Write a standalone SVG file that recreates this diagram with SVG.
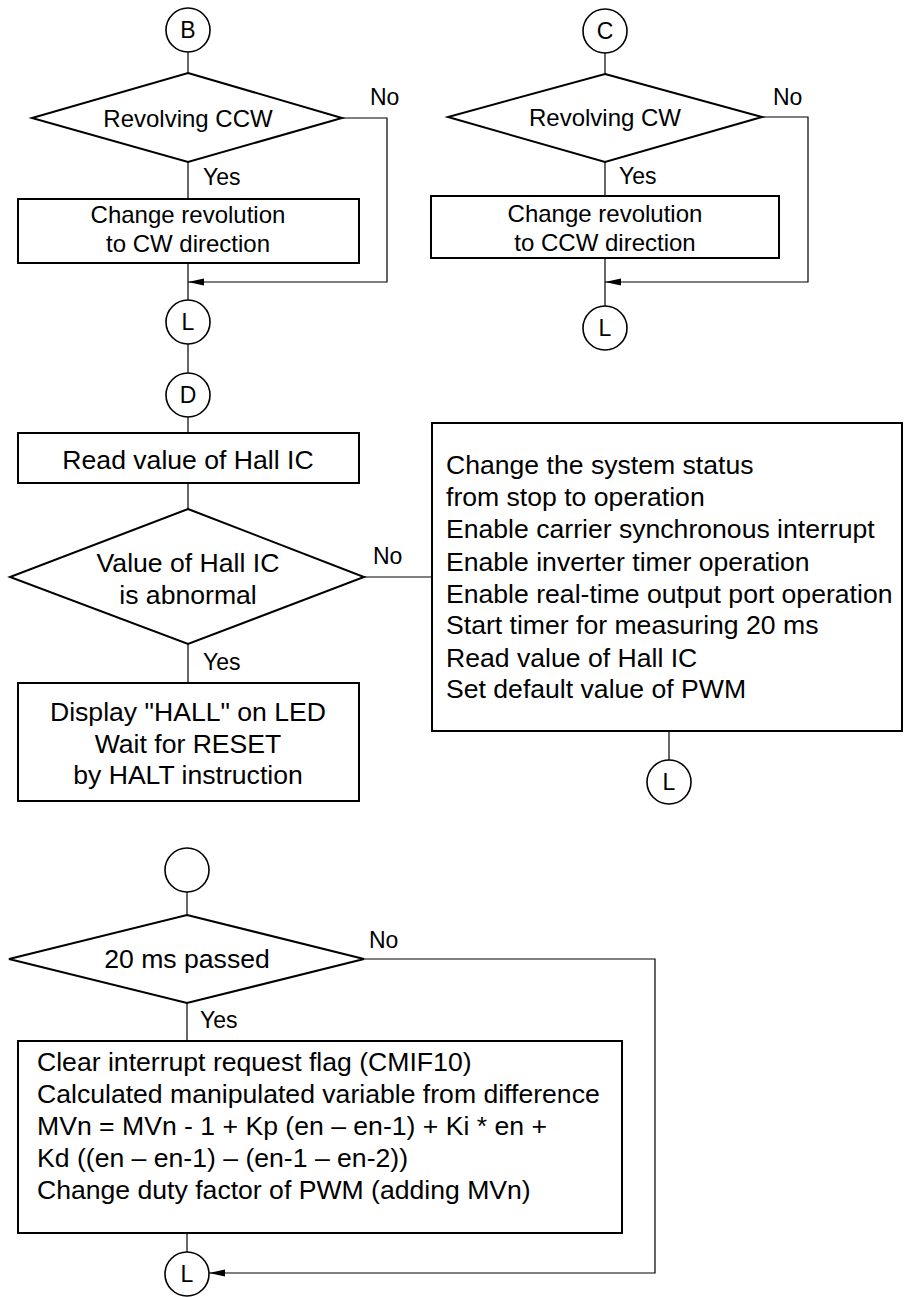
<svg xmlns="http://www.w3.org/2000/svg" width="904" height="1297" viewBox="0 0 904 1297">
  <defs>
    <marker id="arrow" markerWidth="16" markerHeight="8" refX="16" refY="4" orient="auto" markerUnits="userSpaceOnUse">
      <path d="M0,0.5 L16,4 L0,7.5 Z" fill="#000"/>
    </marker>
    <style>
      text { font-family: "Liberation Sans", Arial, sans-serif; fill: #000; }
      .box { fill: #fff; stroke: #000; stroke-width: 2; }
      .term { fill: #fff; stroke: #000; stroke-width: 1.6; }
      .wire { fill: none; stroke: #000; stroke-width: 1.2; }
      .t24 { font-size: 24px; }
      .t26 { font-size: 26.6px; }
      .lbl { font-size: 23px; }
      .cl { font-size: 23px; text-anchor: middle; }
      .mid { text-anchor: middle; }
    </style>
  </defs>
  <rect width="904" height="1297" fill="#fff"/>

  <!-- connectors -->
  <g id="connectors" class="wire">
    <!-- CCW branch -->
    <line x1="188" y1="52" x2="188" y2="73"/>
    <line x1="188" y1="162" x2="188" y2="199"/>
    <line x1="188" y1="263" x2="188" y2="300"/>
    <polyline points="342,118 387,118 387,282 188,282" marker-end="url(#arrow)"/>
    <!-- CW branch -->
    <line x1="605" y1="53" x2="605" y2="74"/>
    <line x1="605" y1="162" x2="605" y2="196"/>
    <line x1="605" y1="258" x2="605" y2="306"/>
    <polyline points="762,117 808,117 808,282 605,282" marker-end="url(#arrow)"/>
    <!-- Hall IC check -->
    <line x1="188" y1="344" x2="188" y2="373"/>
    <line x1="188" y1="417" x2="188" y2="433"/>
    <line x1="188" y1="483" x2="188" y2="509"/>
    <line x1="188" y1="644" x2="188" y2="683"/>
    <line x1="364" y1="577" x2="432" y2="577"/>
    <line x1="669" y1="731" x2="669" y2="760"/>
    <!-- 20 ms loop -->
    <line x1="187" y1="892" x2="187" y2="915"/>
    <line x1="187" y1="1003" x2="187" y2="1041"/>
    <line x1="187" y1="1233" x2="187" y2="1252"/>
    <polyline points="364,959 655,959 655,1273 209,1273" marker-end="url(#arrow)"/>
  </g>

  <!-- CCW branch -->
  <g id="conn-b">
    <circle class="term" cx="188" cy="30" r="22"/>
    <text class="cl" x="188" y="38">B</text>
  </g>
  <g id="dec-ccw">
    <polygon class="box" points="188,73 342,118 188,162 32,118"/>
    <text class="t24 mid" x="188" y="127">Revolving CCW</text>
    <text class="lbl" x="370" y="105">No</text>
    <text class="lbl" x="203" y="185">Yes</text>
  </g>
  <g id="proc-to-cw">
    <rect class="box" x="18" y="199" width="341" height="64"/>
    <text class="t24 mid" x="188" y="223">Change revolution</text>
    <text class="t24 mid" x="188" y="252">to CW direction</text>
  </g>
  <g id="conn-l1">
    <circle class="term" cx="188" cy="322" r="22"/>
    <text class="cl" x="188" y="330">L</text>
  </g>

  <!-- CW branch -->
  <g id="conn-c">
    <circle class="term" cx="605" cy="31" r="22"/>
    <text class="cl" x="605" y="39">C</text>
  </g>
  <g id="dec-cw">
    <polygon class="box" points="605,74 762,117 605,162 448,117"/>
    <text class="t24 mid" x="605" y="126">Revolving CW</text>
    <text class="lbl" x="773" y="105">No</text>
    <text class="lbl" x="619" y="184">Yes</text>
  </g>
  <g id="proc-to-ccw">
    <rect class="box" x="431" y="196" width="348" height="62"/>
    <text class="t24 mid" x="605" y="222">Change revolution</text>
    <text class="t24 mid" x="605" y="251">to CCW direction</text>
  </g>
  <g id="conn-l2">
    <circle class="term" cx="605" cy="328" r="22"/>
    <text class="cl" x="605" y="336">L</text>
  </g>

  <!-- Hall IC check -->
  <g id="conn-d">
    <circle class="term" cx="188" cy="395" r="22"/>
    <text class="cl" x="188" y="403">D</text>
  </g>
  <g id="proc-read-hall">
    <rect class="box" x="18" y="433" width="341" height="50"/>
    <text class="t26 mid" x="188" y="469">Read value of Hall IC</text>
  </g>
  <g id="dec-hall">
    <polygon class="box" points="188,509 364,577 188,644 10,577"/>
    <text class="t26 mid" x="188" y="572">Value of Hall IC</text>
    <text class="t26 mid" x="188" y="604">is abnormal</text>
    <text class="lbl" x="373" y="564">No</text>
    <text class="lbl" x="203" y="670">Yes</text>
  </g>
  <g id="proc-halt">
    <rect class="box" x="18" y="683" width="341" height="118"/>
    <text class="t26 mid" x="188" y="721">Display "HALL" on LED</text>
    <text class="t26 mid" x="188" y="753">Wait for RESET</text>
    <text class="t26 mid" x="188" y="784">by HALT instruction</text>
  </g>
  <g id="proc-start">
    <rect class="box" x="432" y="423" width="470" height="308"/>
    <text class="t26" x="446" y="474">Change the system status</text>
    <text class="t26" x="446" y="506">from stop to operation</text>
    <text class="t26" x="446" y="538">Enable carrier synchronous interrupt</text>
    <text class="t26" x="446" y="571">Enable inverter timer operation</text>
    <text class="t26" x="446" y="603">Enable real-time output port operation</text>
    <text class="t26" x="446" y="634">Start timer for measuring 20 ms</text>
    <text class="t26" x="446" y="667">Read value of Hall IC</text>
    <text class="t26" x="446" y="698">Set default value of PWM</text>
  </g>
  <g id="conn-l3">
    <circle class="term" cx="669" cy="782" r="22"/>
    <text class="cl" x="669" y="790">L</text>
  </g>

  <!-- 20 ms loop -->
  <g id="conn-entry">
    <circle class="term" cx="187" cy="870" r="22"/>
  </g>
  <g id="dec-20ms">
    <polygon class="box" points="187,915 364,959 187,1003 9,959"/>
    <text class="t26 mid" x="187" y="968">20 ms passed</text>
    <text class="lbl" x="369" y="948">No</text>
    <text class="lbl" x="200" y="1028">Yes</text>
  </g>
  <g id="proc-pid">
    <rect class="box" x="18" y="1041" width="604" height="192"/>
    <text class="t26" x="37" y="1071">Clear interrupt request flag (CMIF10)</text>
    <text class="t26" x="37" y="1103">Calculated manipulated variable from difference</text>
    <text class="t26" x="37" y="1135">MVn = MVn - 1 + Kp (en – en-1) + Ki * en +</text>
    <text class="t26" x="37" y="1167">Kd ((en – en-1) – (en-1 – en-2))</text>
    <text class="t26" x="37" y="1199">Change duty factor of PWM (adding MVn)</text>
  </g>
  <g id="conn-l4">
    <circle class="term" cx="187" cy="1274" r="22"/>
    <text class="cl" x="187" y="1282">L</text>
  </g>
</svg>
